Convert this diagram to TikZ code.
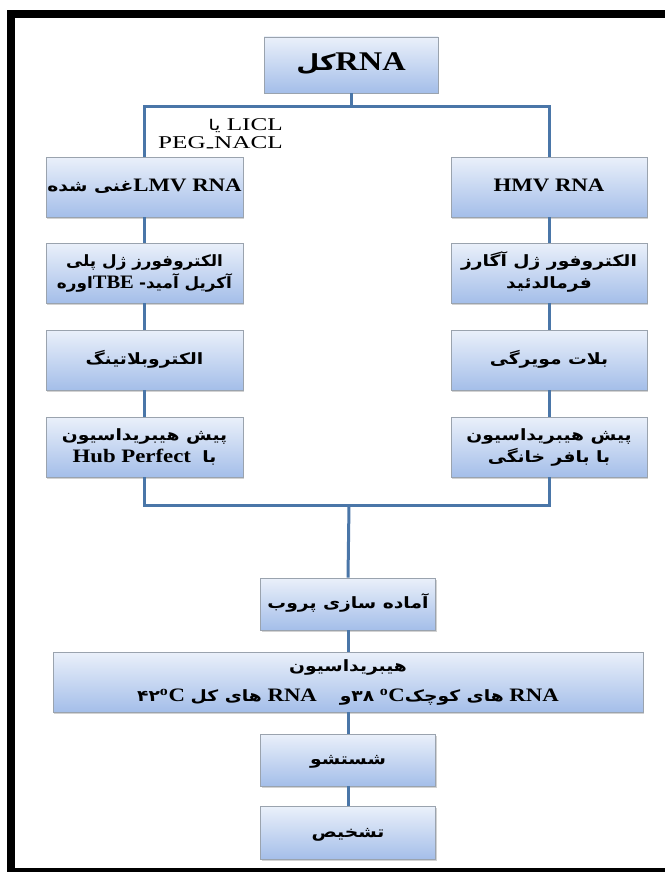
\documentclass[tikz,border=0pt]{standalone}
\usepackage{fontspec}
\usepackage{graphicx}
\setmainfont{Liberation Serif}
\newfontfamily\fa[Script=Arabic,Scale=0.82]{DejaVu Sans}
\TeXXeTstate=1
\usetikzlibrary{shadows}
\definecolor{boxtop}{HTML}{EAF0FA}
\definecolor{boxbot}{HTML}{A4BEE9}
\definecolor{boxline}{HTML}{9AA3AE}
\definecolor{connc}{HTML}{4A76A8}
\newcommand\R[1]{{\fa\beginR #1\endR}}
\newcommand\sx[2][1.2]{\scalebox{#1}[1]{\begin{tabular}{@{}c@{}}#2\end{tabular}}}
\newcommand\dg{\textsuperscript{o}C}
\begin{document}
\begin{tikzpicture}[x=1pt,y=-1pt,
  box/.style={draw=boxline, line width=0.6pt, top color=boxtop, bottom color=boxbot,
    drop shadow={opacity=0.35, shadow xshift=1.2pt, shadow yshift=-1.5pt},
    inner sep=0pt, font=\bfseries\fontsize{19}{22}\selectfont},
  conn/.style={draw=connc, line width=3pt}]
\useasboundingbox (0,0) rectangle (665,872);
\fill[white] (0,0) rectangle (665,872);
% frame
\fill[black] (7,10) rectangle (665,18);
\fill[black] (7,10) rectangle (15,872);
\fill[black] (7,868) rectangle (665,872);

% nodes
\node[box, minimum width=174, minimum height=56] (top) at (351,65)
  {\sx{\fontsize{27}{30}\selectfont \R{کل}RNA}};
\node[box, minimum width=197, minimum height=60] (lmv) at (144.5,187) {\sx{\R{غنی شده}LMV RNA}};
\node[box, minimum width=196, minimum height=60] (hmv) at (549,187) {\sx{HMV RNA}};
\node[box, minimum width=197, minimum height=60] (l2) at (144.5,273)
  {\sx[1.08]{\R{الکتروفورز ژل پلی}\\ \R{اوره}TBE\ \R{آکریل آمید-}}};
\node[box, minimum width=196, minimum height=60] (r2) at (549,273)
  {\sx{\R{الکتروفور ژل آگارز}\\ \R{فرمالدئید}}};
\node[box, minimum width=197, minimum height=60] (l3) at (144.5,360) {\sx{\R{الکتروبلاتینگ}}};
\node[box, minimum width=196, minimum height=60] (r3) at (549,360) {\sx{\R{بلات مویرگی}}};
\node[box, minimum width=197, minimum height=60] (l4) at (144.5,447)
  {\sx{\R{پیش هیبریداسیون}\\ Hub Perfect\ \ \R{با}}};
\node[box, minimum width=196, minimum height=60] (r4) at (549,447)
  {\sx{\R{پیش هیبریداسیون}\\ \R{با بافر خانگی}}};
\node[box, minimum width=175, minimum height=52] (probe) at (348,604) {\sx{\R{آماده سازی پروب}}};
\node[box, minimum width=590, minimum height=60] (hyb) at (348,682)
  {\sx{\R{هیبریداسیون}\\[8pt]
   {\fa ۴۲}\dg\ \R{های کل} RNA\ \ \ \ \R{و}{\fa ۳۸} \dg\R{های کوچک} RNA}};
\node[box, minimum width=175, minimum height=52] (wash) at (348,760) {\sx{\R{شستشو}}};
\node[box, minimum width=175, minimum height=53] (det) at (348,833) {\sx{\R{تشخیص}}};

% label
\node[anchor=east, inner sep=0pt, font=\fontsize{18}{18}\selectfont] (lbl) at (283,136)
  {\scalebox{1.4}[1]{\begin{tabular}{@{}r@{}}\R{یا} LICL\\ PEG\raisebox{-0.22em}{-}NACL\end{tabular}}};

% connectors
\coordinate (split) at (351,107);
\coordinate (merge) at (349,505);
\draw[conn] (top.south) -- (split);
\draw[conn] (lmv.north) |- (split) -| (hmv.north);
\draw[conn] (lmv.south) -- (l2.north);
\draw[conn] (l2.south) -- (l3.north);
\draw[conn] (l3.south) -- (l4.north);
\draw[conn] (hmv.south) -- (r2.north);
\draw[conn] (r2.south) -- (r3.north);
\draw[conn] (r3.south) -- (r4.north);
\draw[conn] (l4.south) |- (merge) -| (r4.south);
\draw[conn] (merge) -- (probe.north);
\draw[conn] (probe.south) -- (hyb.north);
\draw[conn] (hyb.south) -- (wash.north);
\draw[conn] (wash.south) -- (det.north);
\end{tikzpicture}
\end{document}
